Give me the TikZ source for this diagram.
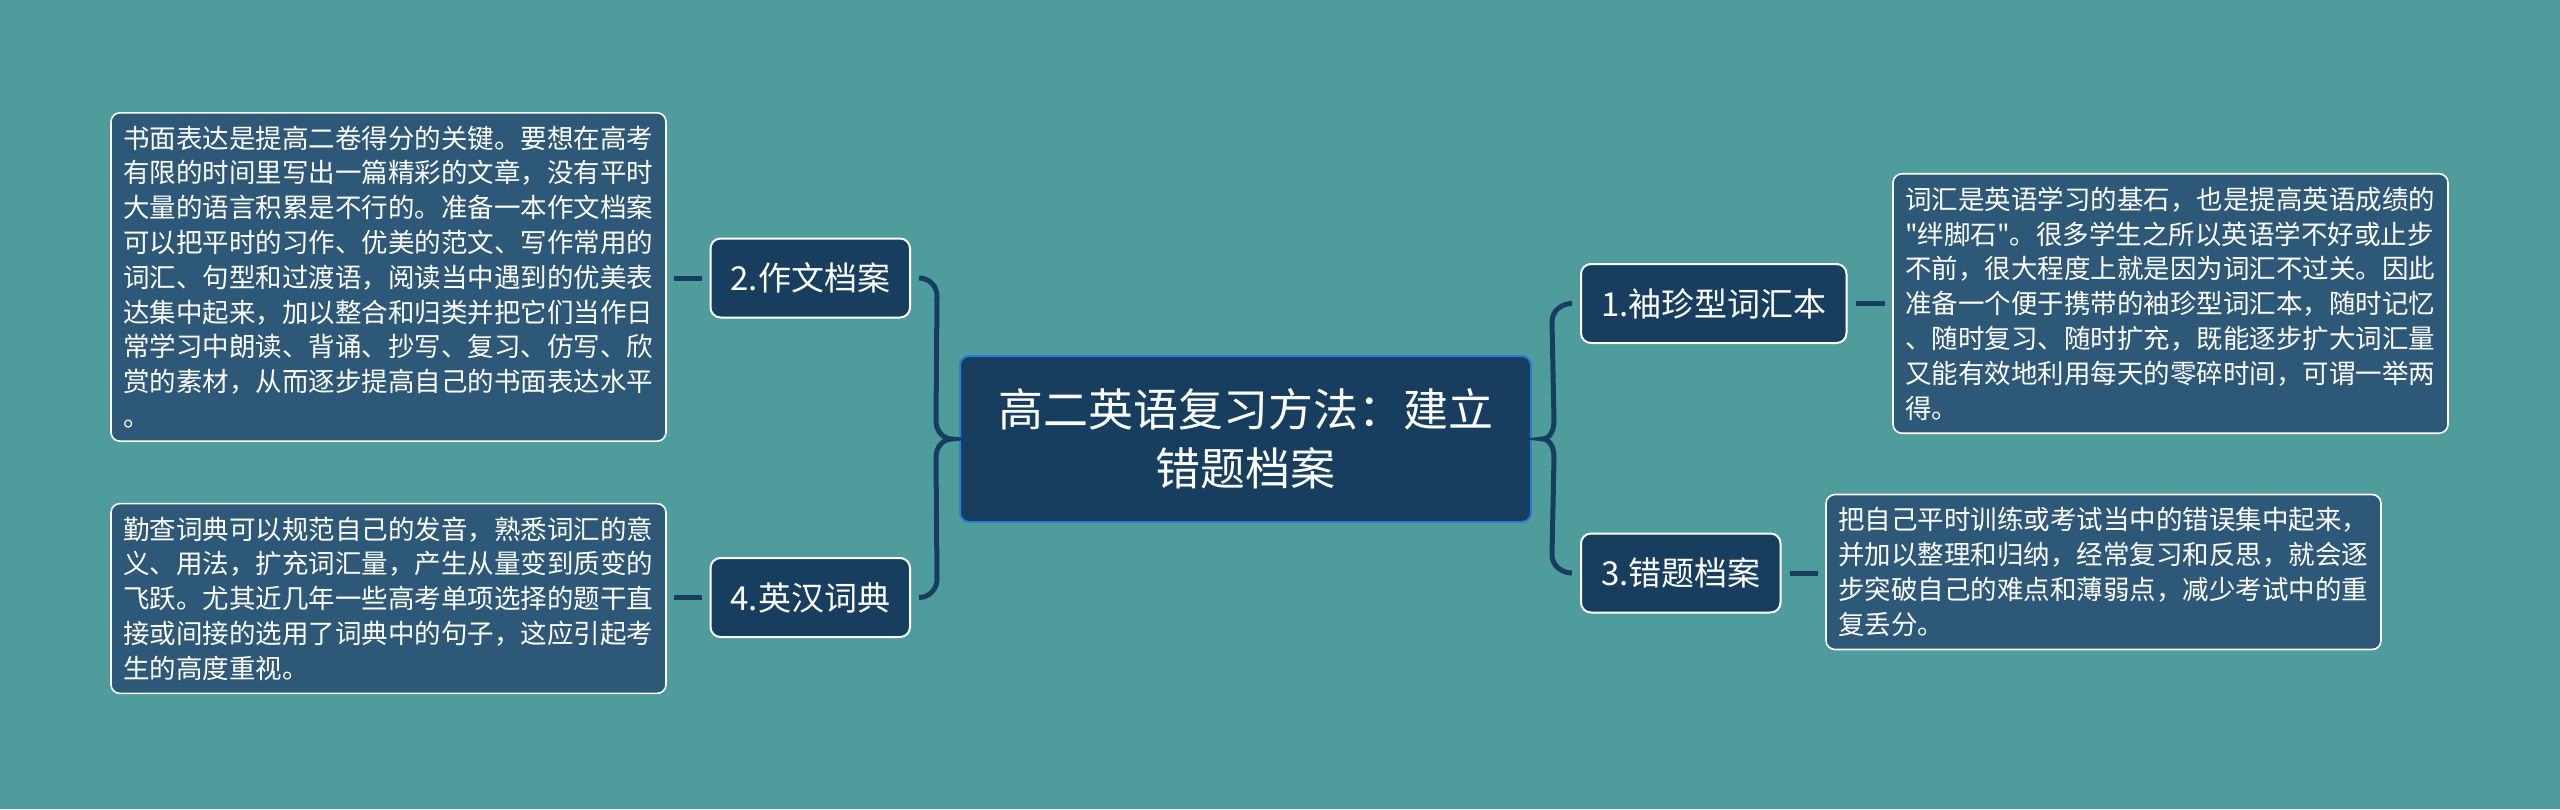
\documentclass[tikz,border=0pt]{standalone}
\usepackage{fontspec}
\newfontfamily\cjk{Noto Sans CJK SC}
\definecolor{bg}{HTML}{4E9C9C}
\definecolor{navy}{HTML}{173E5E}
\definecolor{steel}{HTML}{2E5878}
\definecolor{rootedge}{HTML}{2F7BD6}
\tikzset{
  root/.style={draw=rootedge,line width=2pt,fill=navy,rounded corners=9pt,text=white,align=center,
    font=\cjk\fontsize{45}{59}\selectfont,minimum width=571pt,minimum height=166pt},
  topic/.style={draw=white,line width=2pt,fill=navy,rounded corners=10pt,text=white,
    font=\cjk\fontsize{33}{40}\selectfont,inner xsep=20pt,minimum height=79pt},
  note/.style={draw=white,line width=1.6pt,fill=steel,rounded corners=9pt,text=white,align=left,
    font=\cjk\fontsize{26.5}{34.8}\selectfont,text width=531pt,inner xsep=12pt,inner ysep=13pt},
  link/.style={draw=navy,line width=5pt}
}
\begin{document}
\begin{tikzpicture}[x=1pt,y=1pt]
\fill[bg] (0,0) rectangle (2560,-809);
\useasboundingbox (0,0) rectangle (2560,-809);
					\node(root)[root] at (1245.5,-439) {高二英语复习方法：建立\\错题档案};
					\node(t1)[topic,anchor=west] at (1580,-303.5) {1.袖珍型词汇本};
					\node(t2)[topic,anchor=east] at (911,-278) {2.作文档案};
					\node(t3)[topic,anchor=west] at (1580,-573) {3.错题档案};
					\node(t4)[topic,anchor=east] at (911,-597.5) {4.英汉词典};
						\node(n1)[note] at (2170.5,-303.5) {词汇是英语学习的基石，也是提高英语成绩的\\"绊脚石"。很多学生之所以英语学不好或止步\\不前，很大程度上就是因为词汇不过关。因此\\准备一个便于携带的袖珍型词汇本，随时记忆\\、随时复习、随时扩充，既能逐步扩大词汇量\\又能有效地利用每天的零碎时间，可谓一举两\\得。};
						\node(n2)[note] at (388.5,-277) {书面表达是提高二卷得分的关键。要想在高考\\有限的时间里写出一篇精彩的文章，没有平时\\大量的语言积累是不行的。准备一本作文档案\\可以把平时的习作、优美的范文、写作常用的\\词汇、句型和过渡语，阅读当中遇到的优美表\\达集中起来，加以整合和归类并把它们当作日\\常学习中朗读、背诵、抄写、复习、仿写、欣\\赏的素材，从而逐步提高自己的书面表达水平\\。};
						\node(n3)[note] at (2103.5,-572) {把自己平时训练或考试当中的错误集中起来，\\并加以整理和归纳，经常复习和反思，就会逐\\步突破自己的难点和薄弱点，减少考试中的重\\复丢分。};
						\node(n4)[note] at (388.5,-598.5) {勤查词典可以规范自己的发音，熟悉词汇的意\\义、用法，扩充词汇量，产生从量变到质变的\\飞跃。尤其近几年一些高考单项选择的题干直\\接或间接的选用了词典中的句子，这应引起考\\生的高度重视。};
					\coordinate(ltip) at ([xshift=-7pt]root.west);
					\coordinate(rtip) at ([xshift=10pt]root.east);
					\draw[link] ([xshift=8pt]t2.east) to[out=0,in=90] ++(18,-18) -- ([xshift=-16pt,yshift=18pt]ltip) to[out=-90,in=180] (ltip)
						to[out=180,in=90] ([xshift=-16pt,yshift=-18pt]ltip) -- ([xshift=26pt,yshift=18pt]t4.east) to[out=-90,in=0] ([xshift=8pt]t4.east);
					\draw[link] ([xshift=-8pt]t1.west) to[out=180,in=90] ++(-20,-18) -- ([xshift=12pt,yshift=18pt]rtip) to[out=-90,in=0] (rtip)
						to[out=0,in=90] ([xshift=12pt,yshift=-18pt]rtip) -- ([xshift=-28pt,yshift=18pt]t3.west) to[out=-90,in=180] ([xshift=-8pt]t3.west);
					\draw[link,shorten >=7pt,shorten <=8pt] (t2.west) -- (t2.west -| n2.east);
					\draw[link,shorten >=7pt,shorten <=8pt] (t4.west) -- (t4.west -| n4.east);
					\draw[link,shorten >=7pt,shorten <=8pt] (t1.east) -- (t1.east -| n1.west);
					\draw[link,shorten >=7pt,shorten <=8pt] (t3.east) -- (t3.east -| n3.west);
				\end{tikzpicture}
\end{document}
